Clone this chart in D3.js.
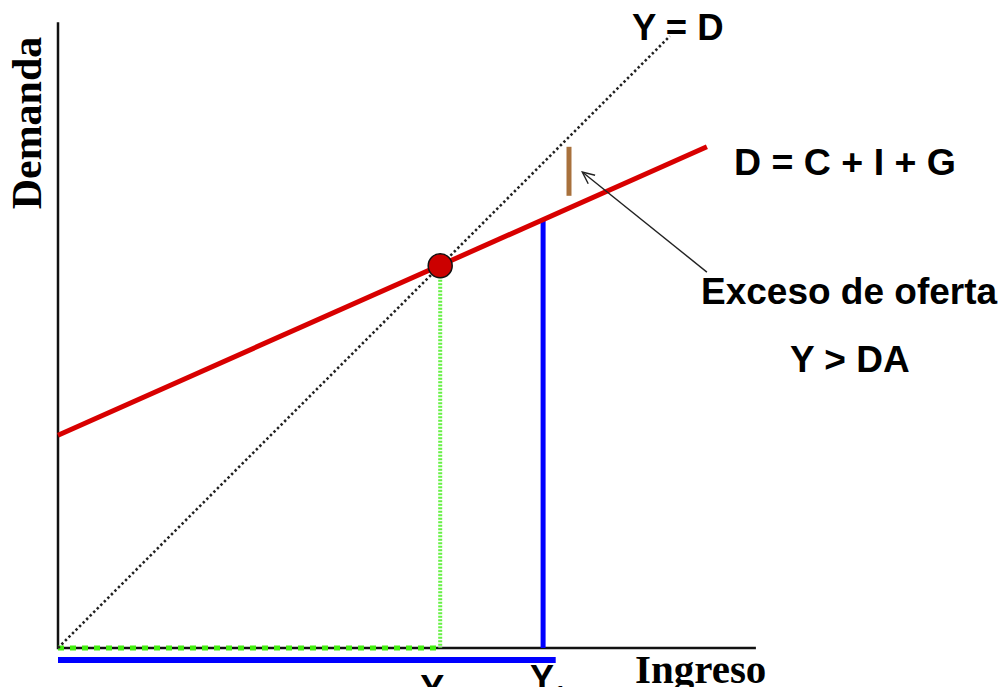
<!DOCTYPE html>
<html>
<head>
<meta charset="utf-8">
<script src="https://cdn.jsdelivr.net/npm/d3@7"></script>
<style>
  html, body { margin: 0; padding: 0; background: #fff; }
  svg { display: block; }
</style>
</head>
<body>
<script>
// ---- data (model units) ----
const axisX = [0, 99.7];            // income axis extent
const axisY = [0, 89.4];            // demand axis extent
const lineYD = [[0, 0], [87.4, 87.4]];          // 45° line Y = D
const lineDA = [[0, 30.4], [92.7, 71.6]];       // D = C + I + G
const equilibrium = [54.6, 54.6];               // Ye
const y1 = 69.3, y1Demand = 61.2;               // Y1 and its demand
const blueBase = [[0, -1.7], [71.1, -1.7]];     // Y1 segment under axis
const gapTick = [[73, 71.6], [73, 64.6]];       // excess supply tick
const arrowPts = [[92.7, 53.7], [74.9, 68]];    // annotation arrow tail -> head
const labels = {
  yd: "Y = D", da: "D = C + I + G", exceso: "Exceso de oferta",
  cond: "Y > DA", ylab: "Demanda", xlab: "Ingreso", ye: "Y", y1: "Y", y1sub: "1"
};

const W = 1003, H = 687;
const svg = d3.select("body").append("svg").attr("width", W).attr("height", H);

const x = d3.scaleLinear().domain([0, 100]).range([58, 758]);
const y = d3.scaleLinear().domain([0, 100]).range([648, -52]);
const line = d3.line().x(d => x(d[0])).y(d => y(d[1]));

// arrow marker (open V)
svg.append("defs").append("marker")
  .attr("id", "arr").attr("viewBox", "-14 -7 16 14")
  .attr("refX", 0).attr("refY", 0)
  .attr("markerWidth", 16).attr("markerHeight", 14)
  .attr("markerUnits", "userSpaceOnUse")
  .attr("orient", "auto")
  .append("path").attr("d", "M-12,-5.5 L0,0 L-12,5.5")
  .attr("fill", "none").attr("stroke", "#222").attr("stroke-width", 1.4);

// axes
svg.append("path").attr("d", line([[axisX[0], axisY[1]], [0, 0], [axisX[1], 0]]))
  .attr("fill", "none").attr("stroke", "#111").attr("stroke-width", 2.5);

// blue base segment
svg.append("path").attr("d", line(blueBase))
  .attr("stroke", "#0000ff").attr("stroke-width", 6).attr("fill", "none");

// green dotted along axis to Ye
svg.append("path").attr("d", line([[0, 0], [equilibrium[0], 0]]))
  .attr("stroke", "#44ee11").attr("stroke-width", 5).attr("stroke-dasharray", "6,6").attr("fill", "none");

// green dotted vertical at Ye
svg.append("path").attr("d", line([[equilibrium[0], equilibrium[1]], [equilibrium[0], 0]]))
  .attr("stroke", "#66f044").attr("stroke-width", 4).attr("stroke-dasharray", "2,1.5").attr("fill", "none");

// 45 degree line
svg.append("path").attr("d", line(lineYD))
  .attr("stroke", "#222").attr("stroke-width", 2.6).attr("stroke-dasharray", "2.4,2.6").attr("fill", "none");

// blue vertical at Y1
svg.append("path").attr("d", line([[y1, y1Demand], [y1, 0]]))
  .attr("stroke", "#0000ff").attr("stroke-width", 5).attr("fill", "none");

// D line
svg.append("path").attr("d", line(lineDA))
  .attr("stroke", "#d80000").attr("stroke-width", 5).attr("fill", "none");

// brown tick
svg.append("path").attr("d", line(gapTick))
  .attr("stroke", "#a8713c").attr("stroke-width", 5).attr("fill", "none");

// arrow
svg.append("path").attr("d", line(arrowPts))
  .attr("stroke", "#222").attr("stroke-width", 1.4).attr("fill", "none")
  .attr("marker-end", "url(#arr)");

// equilibrium point
svg.append("circle").attr("cx", x(equilibrium[0])).attr("cy", y(equilibrium[1])).attr("r", 12)
  .attr("fill", "#cc0000").attr("stroke", "#111").attr("stroke-width", 1.5);

// text
const sans = "'Liberation Sans', Arial, sans-serif";
const serif = "'Liberation Serif', 'Times New Roman', serif";
function t(txt, px, py, size, fam, anchor) {
  return svg.append("text").attr("x", px).attr("y", py).text(txt)
    .attr("font-family", fam).attr("font-size", size).attr("font-weight", "bold")
    .attr("text-anchor", anchor || "start").attr("fill", "#000");
}
t(labels.yd, 632, 40, 36.5, sans);
t(labels.da, 734, 175, 37.5, sans);
t(labels.exceso, 701, 304, 37, sans);
t(labels.cond, 790, 372, 37, sans);
t(labels.xlab, 635, 683, 41, serif);
svg.append("text").attr("transform", "translate(41,123) rotate(-90)")
  .attr("text-anchor", "middle").attr("font-family", serif).attr("font-size", 42)
  .attr("font-weight", "bold").text(labels.ylab);
t(labels.ye, x(equilibrium[0]) - 8, 701, 36, sans, "middle");
const ty1 = t(labels.y1, x(y1) + 5, 691, 36, sans, "middle");
ty1.append("tspan").attr("font-size", 22).attr("dy", 10).text(labels.y1sub);
</script>
</body>
</html>
